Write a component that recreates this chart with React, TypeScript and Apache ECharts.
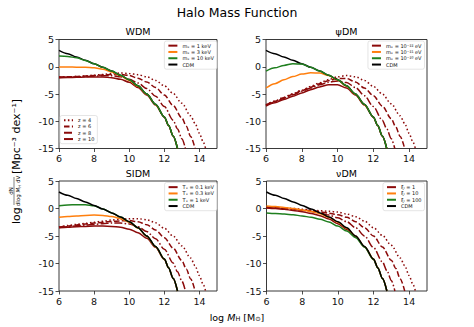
import React, { useEffect, useRef } from 'react';
import * as echarts from 'echarts';

const FONT = 'DejaVu Sans';
const RED = '#8b0a0a';
const ORANGE = '#ff7f0e';
const GREEN = '#1f7f1f';
const BLACK = '#000000';

const xTicks = [6, 8, 10, 12, 14];

// log M_H sample points for each redshift curve family
const xZ10 = [6, 6.5, 7, 7.5, 8, 8.5, 9, 9.5, 10, 10.5, 11, 11.5, 12, 12.25, 12.5, 12.75];
const xZ8 = [6, 6.5, 7, 7.5, 8, 8.5, 9, 9.5, 10, 10.5, 11, 11.5, 12, 12.5, 12.75, 13, 13.2];
const xZ6 = [6, 6.5, 7, 7.5, 8, 8.5, 9, 9.5, 10, 10.5, 11, 11.5, 12, 12.5, 13, 13.25, 13.5, 13.75];
const xZ4 = [6, 6.5, 7, 7.5, 8, 8.5, 9, 9.5, 10, 10.5, 11, 11.5, 12, 12.5, 13, 13.5, 13.75, 14, 14.2, 14.35];

// CDM at z = 10
const cdm = [3.0, 2.4, 1.8, 1.2, 0.55, -0.1, -0.8, -1.55, -2.4, -3.5, -5.0, -6.9, -9.2, -10.8, -12.7, -15.0];

// WDM
const wdmRedZ4 = [-1.9, -1.85, -1.8, -1.7, -1.55, -1.4, -1.25, -1.15, -1.25, -1.45, -1.85, -2.5, -3.5, -4.9, -6.7, -9.0, -10.4, -12.2, -13.7, -15];
const wdmRedZ6 = [-1.9, -1.85, -1.8, -1.72, -1.6, -1.5, -1.4, -1.4, -1.6, -2.1, -2.8, -3.8, -5.2, -7.1, -9.4, -10.9, -12.8, -15];
const wdmRedZ8 = [-1.95, -1.9, -1.85, -1.8, -1.7, -1.65, -1.65, -1.85, -2.3, -3.0, -4.0, -5.4, -7.3, -9.8, -11.4, -13.2, -15];
const wdmRedZ10 = [-2.0, -1.97, -1.93, -1.9, -1.87, -1.9, -2.0, -2.3, -2.85, -3.8, -5.2, -7.0, -9.25, -10.85, -12.75, -15.0];
const wdmOrange = [-0.05, -0.05, -0.07, -0.1, -0.2, -0.45, -0.95, -1.65, -2.5, -3.6, -5.05, -6.95, -9.2, -10.8, -12.7, -15];
const wdmGreen = [1.95, 1.88, 1.65, 1.15, 0.53, -0.1, -0.8, -1.55, -2.4, -3.5, -5.0, -6.9, -9.2, -10.8, -12.7, -15];

// psiDM
const psiRedZ4 = [-7.0, -6.3, -5.6, -4.95, -4.3, -3.6, -2.95, -2.35, -1.85, -1.6, -1.85, -2.5, -3.6, -5.0, -6.8, -9.0, -10.4, -12.2, -13.7, -15];
const psiRedZ6 = [-7.0, -6.35, -5.7, -5.05, -4.4, -3.75, -3.1, -2.55, -2.15, -2.15, -2.8, -3.9, -5.3, -7.2, -9.5, -11.0, -12.8, -15];
const psiRedZ8 = [-7.1, -6.45, -5.8, -5.15, -4.5, -3.9, -3.3, -2.85, -2.6, -2.9, -3.8, -5.3, -7.3, -9.8, -11.4, -13.2, -15];
const psiRedZ10 = [-7.2, -6.6, -6.0, -5.4, -4.8, -4.2, -3.7, -3.3, -3.3, -3.9, -5.2, -7.0, -9.25, -10.85, -12.75, -15];
const psiOrange = [-3.9, -3.1, -2.4, -1.8, -1.35, -1.1, -1.15, -1.6, -2.45, -3.55, -5.05, -6.95, -9.2, -10.8, -12.7, -15];
const psiGreen = [-0.8, -0.2, 0.25, 0.55, 0.5, -0.1, -0.8, -1.55, -2.4, -3.5, -5.0, -6.9, -9.2, -10.8, -12.7, -15];

// SIDM
const sidmRedZ4 = [-3.35, -3.1, -2.9, -2.7, -2.5, -2.3, -2.1, -1.95, -1.85, -1.85, -2.05, -2.6, -3.6, -5.0, -6.8, -9.0, -10.4, -12.2, -13.7, -15];
const sidmRedZ6 = [-3.4, -3.2, -3.0, -2.8, -2.65, -2.5, -2.35, -2.25, -2.2, -2.4, -2.95, -3.9, -5.3, -7.2, -9.5, -11.0, -12.8, -15];
const sidmRedZ8 = [-3.45, -3.3, -3.15, -3.0, -2.9, -2.75, -2.65, -2.65, -2.8, -3.3, -4.2, -5.5, -7.4, -9.9, -11.5, -13.2, -15];
const sidmRedZ10 = [-3.5, -3.4, -3.3, -3.25, -3.2, -3.2, -3.25, -3.4, -3.75, -4.4, -5.4, -7.05, -9.25, -10.85, -12.75, -15];
const sidmOrange = [-1.6, -1.45, -1.35, -1.25, -1.2, -1.25, -1.45, -1.85, -2.5, -3.55, -5.05, -6.95, -9.2, -10.8, -12.7, -15];
const sidmGreen = [0.5, 0.65, 0.7, 0.7, 0.5, -0.1, -0.8, -1.55, -2.4, -3.5, -5.0, -6.9, -9.2, -10.8, -12.7, -15];

// nuDM
const nuRedZ4 = [0.3, 0.2, 0.1, 0.0, -0.15, -0.25, -0.4, -0.5, -0.65, -1.0, -1.5, -2.3, -3.5, -4.9, -6.7, -9.0, -10.4, -12.2, -13.7, -15];
const nuRedZ6 = [0.25, 0.15, 0.05, -0.1, -0.25, -0.4, -0.6, -0.85, -1.15, -1.6, -2.4, -3.5, -5.0, -7.0, -9.4, -10.9, -12.8, -15];
const nuRedZ8 = [0.2, 0.1, 0.0, -0.15, -0.35, -0.55, -0.85, -1.2, -1.7, -2.4, -3.5, -5.0, -7.1, -9.7, -11.3, -13.1, -15];
const nuRedZ10 = [0.1, 0.0, -0.15, -0.35, -0.6, -0.9, -1.3, -1.9, -2.75, -3.8, -5.15, -7.0, -9.25, -10.85, -12.75, -15];
const nuOrange = [0.45, 0.35, 0.2, 0.0, -0.25, -0.55, -0.95, -1.6, -2.5, -3.6, -5.05, -6.95, -9.2, -10.8, -12.7, -15];
const nuGreen = [-0.8, -0.9, -1.0, -1.15, -1.35, -1.6, -1.95, -2.45, -3.2, -4.1, -5.3, -7.05, -9.25, -10.85, -12.75, -15];

const panelTitles = ['WDM', 'ψDM', 'SIDM', 'νDM'];
const modelLabels = [
  ['mₓ = 1 keV', 'mₓ = 3 keV', 'mₓ = 10 keV'],
  ['mₓ = 10⁻²² eV', 'mₓ = 10⁻²¹ eV', 'mₓ = 10⁻²⁰ eV'],
  ['Tₓ = 0.1 keV', 'Tₓ = 0.3 keV', 'Tₓ = 1 keV'],
  ['ξₗ = 1', 'ξₗ = 10', 'ξₗ = 100'],
];
const zLabels = ['z = 4', 'z = 6', 'z = 8', 'z = 10'];

const panels = [
  { red: [wdmRedZ4, wdmRedZ6, wdmRedZ8, wdmRedZ10], orange: wdmOrange, green: wdmGreen, greenTop: true },
  { red: [psiRedZ4, psiRedZ6, psiRedZ8, psiRedZ10], orange: psiOrange, green: psiGreen, greenTop: true },
  { red: [sidmRedZ4, sidmRedZ6, sidmRedZ8, sidmRedZ10], orange: sidmOrange, green: sidmGreen, greenTop: false },
  { red: [nuRedZ4, nuRedZ6, nuRedZ8, nuRedZ10], orange: nuOrange, green: nuGreen, greenTop: false },
];

const DOT = [1.5, 2.4];
const DASH = [5.5, 2.4];
const DASHDOT = [8, 2.2, 1.5, 2.2];

function mk(name: string, xs: number[], ys: number[], gi: number, color: string, type: any) {
  return {
    type: 'line',
    name,
    xAxisIndex: gi,
    yAxisIndex: gi,
    data: xs.map((x, i) => [x, ys[i]]),
    symbol: 'none',
    showSymbol: false,
    smooth: 0.3,
    smoothMonotone: 'x',
    silent: true,
    lineStyle: { color, width: 1.5, type },
    itemStyle: { color },
  };
}

function buildOption() {
  const grids = [
    { left: 59, top: 39.5, width: 158, height: 109 },
    { left: 266, top: 39.5, width: 161, height: 109 },
    { left: 59, top: 181, width: 158, height: 110 },
    { left: 266.5, top: 181, width: 160.5, height: 110 },
  ].map((g) => ({ ...g, show: true, borderColor: '#222', borderWidth: 0.9, backgroundColor: 'transparent' }));

  const xAxis = grids.map((_, i) => ({
    type: 'value',
    gridIndex: i,
    min: 6,
    max: 15,
    interval: 2,
    axisLine: { show: false, onZero: false },
    axisTick: { show: true, length: 3.5, lineStyle: { color: '#222', width: 0.8 }, customValues: xTicks },
    axisLabel: { customValues: xTicks, fontSize: 9.5, color: '#111', margin: 5, fontFamily: FONT },
    splitLine: { show: false },
  }));
  const yAxis = grids.map((_, i) => ({
    type: 'value',
    gridIndex: i,
    min: -15,
    max: 5,
    interval: 5,
    axisLine: { show: false, onZero: false },
    axisTick: { show: true, length: 3.5, lineStyle: { color: '#222', width: 0.8 } },
    axisLabel: { fontSize: 9.5, color: '#111', margin: 5, fontFamily: FONT },
    splitLine: { show: false },
  }));

  const series: any[] = [];
  panels.forEach((p, gi) => {
    series.push(mk(zLabels[0], xZ4, p.red[0], gi, RED, DOT));
    series.push(mk(zLabels[1], xZ6, p.red[1], gi, RED, DASH));
    series.push(mk(zLabels[2], xZ8, p.red[2], gi, RED, DASHDOT));
    series.push(mk(modelLabels[gi][0], xZ10, p.red[3], gi, RED, 'solid'));
    series.push(mk(modelLabels[gi][1], xZ10, p.orange, gi, ORANGE, 'solid'));
    if (p.greenTop) {
      series.push(mk('CDM', xZ10, cdm, gi, BLACK, 'solid'));
      series.push(mk(modelLabels[gi][2], xZ10, p.green, gi, GREEN, 'solid'));
    } else {
      series.push(mk(modelLabels[gi][2], xZ10, p.green, gi, GREEN, 'solid'));
      series.push(mk('CDM', xZ10, cdm, gi, BLACK, 'solid'));
    }
  });
  // legend-only entry for z = 10 (solid red)
  series.push({ ...mk(zLabels[3], [], [], 0, RED, 'solid'), data: [] });

  const legendBase = {
    orient: 'vertical',
    itemWidth: 9,
    itemHeight: 4,
    itemGap: 1,
    padding: [2, 3, 2, 3],
    backgroundColor: 'rgba(255,255,255,0.8)',
    borderColor: '#d4d4d4',
    borderWidth: 0.6,
    borderRadius: 2,
    selectedMode: false,
    itemStyle: { color: 'transparent', borderColor: 'transparent', borderWidth: 0 },
    textStyle: { fontSize: 5, lineHeight: 5.3, color: '#111', fontFamily: FONT },
  };
  const legend = [
    { ...legendBase, right: 257, top: 41, data: [...modelLabels[0], 'CDM'] },
    { ...legendBase, right: 49.5, top: 41, data: [...modelLabels[1], 'CDM'] },
    { ...legendBase, right: 257, top: 182.5, data: [...modelLabels[2], 'CDM'] },
    { ...legendBase, right: 49.5, top: 182.5, data: [...modelLabels[3], 'CDM'] },
    { ...legendBase, left: 60, top: 115.5, data: zLabels },
  ];

  const titlePos = [
    [138, 31],
    [346.5, 31],
    [138, 173],
    [346.5, 173],
  ];
  const graphic: any[] = [
    {
      type: 'text',
      x: 237,
      y: 12,
      style: { text: 'Halo Mass Function', fontSize: 12.5, fontFamily: FONT, fill: '#000', align: 'center', verticalAlign: 'middle' },
    },
    ...panelTitles.map((t, i) => ({
      type: 'text',
      x: titlePos[i][0],
      y: titlePos[i][1],
      style: { text: t, fontSize: 9.5, fontFamily: FONT, fill: '#000', align: 'center', verticalAlign: 'middle' },
    })),
    {
      type: 'text',
      x: 237,
      y: 317,
      style: {
        text: '{n|log }{i|M}{s|H}{n| [M}{s|⊙}{n|]}',
        align: 'center',
        verticalAlign: 'middle',
        fill: '#000',
        rich: {
          n: { fontSize: 9.5, fontFamily: FONT, fill: '#000' },
          i: { fontSize: 9.5, fontFamily: FONT, fontStyle: 'italic', fill: '#000' },
          s: { fontSize: 6.5, fontFamily: FONT, fill: '#000', padding: [4, 0, 0, 0] },
        },
      },
    },
    {
      type: 'group',
      x: 16,
      y: 160,
      rotation: Math.PI / 2,
      children: [
        { type: 'text', x: -64, y: 0, style: { text: 'log', fontSize: 11, fontFamily: FONT, fill: '#000', align: 'left', verticalAlign: 'middle' } },
        { type: 'text', x: -31, y: -5.5, style: { text: 'dN', fontSize: 5.5, fontFamily: FONT, fill: '#000', align: 'center', verticalAlign: 'middle' } },
        { type: 'line', shape: { x1: -45, y1: -2, x2: -17, y2: -2 }, style: { stroke: '#000', lineWidth: 0.5 } },
        {
          type: 'text',
          x: -31,
          y: 2,
          style: {
            text: '{a|dlog }{i|M}{s|H}{a| dV}',
            align: 'center',
            verticalAlign: 'middle',
            fill: '#000',
            rich: {
              a: { fontSize: 5.5, fontFamily: FONT, fill: '#000' },
              i: { fontSize: 5.5, fontFamily: FONT, fontStyle: 'italic', fill: '#000' },
              s: { fontSize: 4, fontFamily: FONT, fill: '#000', padding: [2, 0, 0, 0] },
            },
          },
        },
        { type: 'text', x: -14, y: 0, style: { text: '[Mpc⁻³ dex⁻¹]', fontSize: 11, fontFamily: FONT, fill: '#000', align: 'left', verticalAlign: 'middle' } },
      ],
    },
  ];

  return {
    animation: false,
    backgroundColor: '#ffffff',
    textStyle: { fontFamily: FONT },
    grid: grids,
    xAxis,
    yAxis,
    legend,
    series,
    graphic,
  };
}

export default function App() {
  const ref = useRef<HTMLDivElement>(null);
  useEffect(() => {
    if (!ref.current) return;
    const chart = echarts.init(ref.current, null, { renderer: 'svg' });
    chart.setOption(buildOption() as any);
    return () => chart.dispose();
  }, []);
  return <div ref={ref} style={{ position: 'fixed', left: 0, top: 0, width: 474, height: 327 }} />;
}
